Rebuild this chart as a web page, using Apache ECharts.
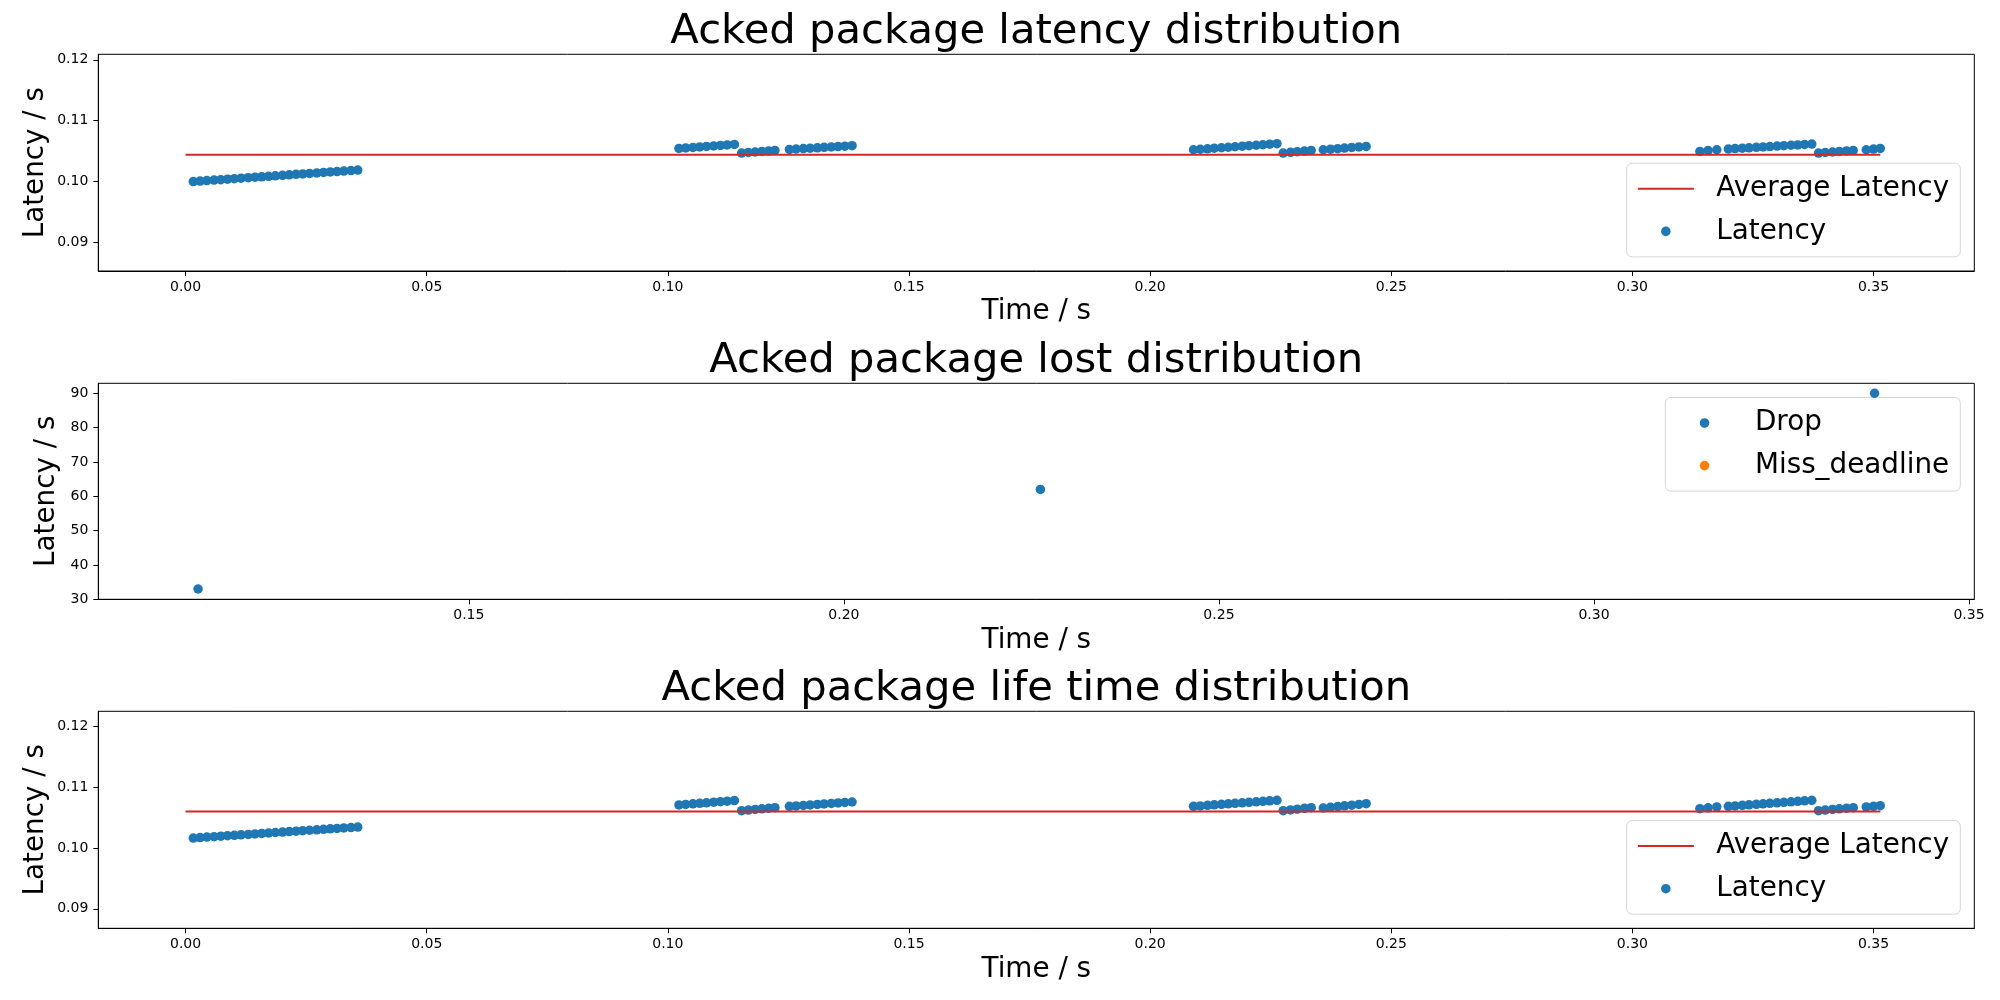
<!DOCTYPE html>
<html>
<head>
<meta charset="utf-8">
<script src="https://cdn.jsdelivr.net/npm/echarts@6/dist/echarts.min.js"></script>
<style>
html,body{margin:0;padding:0;background:#fff;}
#chart{width:2000px;height:1000px;}
</style>
</head>
<body>
<div id="chart"></div>
<script>
// ---------- data ----------
var sendTime = [
  0.0016,0.0030,0.0044,0.0059,0.0073,0.0087,0.0101,0.0115,0.0130,0.0144,0.0158,0.0172,0.0186,0.0201,0.0215,0.0229,0.0243,0.0257,0.0272,0.0286,0.0300,0.0314,0.0328,0.0343,0.0357,
  0.1023,0.1037,0.1052,0.1066,0.1080,0.1095,0.1109,0.1123,0.1138,
  0.1153,0.1167,0.1181,0.1195,0.1209,0.1222,
  0.1252,0.1266,0.1281,0.1295,0.1310,0.1324,0.1339,0.1353,0.1367,0.1382,
  0.2090,0.2104,0.2119,0.2133,0.2148,0.2162,0.2176,0.2191,0.2205,0.2220,0.2234,0.2248,0.2263,
  0.2276,0.2291,0.2305,0.2320,0.2334,
  0.2359,0.2374,0.2389,0.2403,0.2418,0.2433,0.2448,
  0.3140,0.3157,0.3175,
  0.3199,0.3213,0.3228,0.3242,0.3257,0.3271,0.3285,0.3300,0.3314,0.3329,0.3343,0.3357,0.3372,
  0.3386,0.3400,0.3415,0.3429,0.3444,0.3458,
  0.3485,0.3500,0.3514
];
var latency = [
  0.10000,0.10008,0.10016,0.10024,0.10031,0.10039,0.10047,0.10055,0.10063,0.10071,0.10078,0.10086,0.10094,0.10102,0.10110,0.10118,0.10125,0.10133,0.10141,0.10149,0.10157,0.10164,0.10172,0.10180,0.10188,
  0.10544,0.10552,0.10560,0.10569,0.10577,0.10585,0.10593,0.10602,0.10610,
  0.10468,0.10477,0.10485,0.10494,0.10502,0.10511,
  0.10527,0.10534,0.10541,0.10547,0.10554,0.10561,0.10568,0.10574,0.10581,0.10588,
  0.10522,0.10530,0.10538,0.10547,0.10555,0.10563,0.10571,0.10580,0.10588,0.10596,0.10604,0.10613,0.10621,
  0.10468,0.10479,0.10490,0.10500,0.10511,
  0.10522,0.10531,0.10540,0.10549,0.10559,0.10568,0.10577,
  0.10494,0.10508,0.10522,
  0.10534,0.10541,0.10548,0.10554,0.10561,0.10568,0.10575,0.10582,0.10589,0.10596,0.10602,0.10609,0.10616,
  0.10468,0.10477,0.10485,0.10494,0.10502,0.10511,
  0.10522,0.10533,0.10544
];
var lifeTime = [
  0.10165,0.10173,0.10180,0.10188,0.10195,0.10203,0.10210,0.10218,0.10225,0.10233,0.10240,0.10248,0.10256,0.10263,0.10271,0.10278,0.10286,0.10293,0.10301,0.10308,0.10316,0.10323,0.10331,0.10338,0.10346,
  0.10709,0.10718,0.10727,0.10736,0.10745,0.10754,0.10763,0.10772,0.10781,
  0.10615,0.10625,0.10635,0.10645,0.10655,0.10665,
  0.10686,0.10694,0.10702,0.10710,0.10718,0.10726,0.10734,0.10742,0.10750,0.10758,
  0.10686,0.10694,0.10703,0.10711,0.10719,0.10727,0.10736,0.10744,0.10752,0.10760,0.10769,0.10777,0.10785,
  0.10615,0.10628,0.10640,0.10653,0.10665,
  0.10659,0.10671,0.10683,0.10695,0.10706,0.10718,0.10730,
  0.10648,0.10662,0.10676,
  0.10686,0.10694,0.10703,0.10711,0.10719,0.10727,0.10736,0.10744,0.10752,0.10760,0.10769,0.10777,0.10785,
  0.10615,0.10625,0.10635,0.10645,0.10655,0.10665,
  0.10676,0.10687,0.10698
];
var avgLineTime = [0.0, 0.3514];
var avgLatency = 0.1044;
var avgLifeTime = 0.10603;

var dropTime = [0.1139, 0.2262, 0.3374];
var dropValue = [33, 62, 90];
var missTime = [];
var missValue = [];

var timeTicks = [0.00, 0.05, 0.10, 0.15, 0.20, 0.25, 0.30, 0.35];
var lostTimeTicks = [0.15, 0.20, 0.25, 0.30, 0.35];
var latencyTicks = [0.09, 0.10, 0.11, 0.12];
var lostTicks = [30, 40, 50, 60, 70, 80, 90];

var titles = ['Acked package latency distribution', 'Acked package lost distribution', 'Acked package life time distribution'];
var legendLatency = ['Average Latency', 'Latency'];
var legendLost = ['Drop', 'Miss_deadline'];

// ---------- helpers ----------
function pairs(xs, ys) { return xs.map(function (x, i) { return [x, ys[i]]; }); }
function flat(xs, v) { return xs.map(function (x) { return [x, v]; }); }

var FONT = 'DejaVu Sans';
var TITLE_SIZE = 41.7;
var ctx = document.createElement('canvas').getContext('2d');
function textW(t, size) { ctx.font = size + 'px "' + FONT + '"'; return ctx.measureText(t).width; }

var gridL = 98.3, gridR = 25.7;
var gridCX = (gridL + (2000 - gridR)) / 2;
var grids = [
  {left: gridL, right: gridR, top: 54.3, height: 216.7},
  {left: gridL, right: gridR, top: 383.3, height: 216},
  {left: gridL, right: gridR, top: 711.3, height: 217}
];
grids.forEach(function (g) { g.show = true; g.borderColor = '#000'; g.borderWidth = 1; g.backgroundColor = 'transparent'; g.containLabel = false; });

function xAxis(idx, min, max, ticks) {
  return {
    type: 'value', gridIndex: idx, min: min, max: max,
    name: 'Time / s', nameLocation: 'middle', nameGap: 27, nameMoveOverlap: false,
    nameTextStyle: {fontSize: 27.8, fontFamily: FONT, color: '#000'},
    axisLine: {show: true, onZero: false, lineStyle: {color: '#000', width: 1}},
    axisTick: {show: true, length: 5, customValues: ticks, lineStyle: {color: '#000', width: 1}},
    axisLabel: {customValues: ticks, margin: 9, fontSize: 14, fontFamily: FONT, color: '#000',
      formatter: function (v) { return (+v).toFixed(2); }},
    splitLine: {show: false}
  };
}
function yAxis(idx, min, max, ticks, gap, dec) {
  return {
    type: 'value', gridIndex: idx, min: min, max: max,
    name: 'Latency / s', nameLocation: 'middle', nameGap: gap, nameRotate: 90, nameMoveOverlap: false,
    nameTextStyle: {fontSize: 27.8, fontFamily: FONT, color: '#000'},
    axisLine: {show: true, onZero: false, lineStyle: {color: '#000', width: 1}},
    axisTick: {show: true, length: 5, customValues: ticks, lineStyle: {color: '#000', width: 1}},
    axisLabel: {customValues: ticks, margin: 10, fontSize: 14, fontFamily: FONT, color: '#000',
      formatter: function (v) { return (+v).toFixed(dec); }},
    splitLine: {show: false}
  };
}
var blue = '#1f77b4', orange = '#ff7f0e', red = '#d62728';
function scatter(name, xi, data, color) {
  return {type: 'scatter', name: name, xAxisIndex: xi, yAxisIndex: xi, data: data,
    symbol: 'circle', symbolSize: 9.5, itemStyle: {color: color, opacity: 1}, z: 2};
}
function avgLine(xi, v) {
  return {type: 'line', name: 'Average Latency', xAxisIndex: xi, yAxisIndex: xi, data: flat(avgLineTime, v),
    showSymbol: false, symbol: 'none', lineStyle: {color: red, width: 2}, itemStyle: {color: red}, z: 3};
}

// ---------- legend boxes (matplotlib style) ----------
var LFS = 27.8, PAD = 11.2, HANDLE = 56, HTP = 22.4, ROWH = 28.6, SPACING = 14;
function legendGroup(labels, kinds, colors, rightX, topY) {
  var maxW = Math.max.apply(null, labels.map(function (t) { return textW(t, LFS); }));
  var w = PAD + HANDLE + HTP + maxW + PAD;
  var h = PAD * 2 + labels.length * ROWH + (labels.length - 1) * SPACING;
  var left = rightX - w;
  var children = [{
    type: 'rect', shape: {x: left, y: topY, width: w, height: h, r: 5.5},
    style: {fill: 'rgba(255,255,255,0.8)', stroke: '#d6d6d6', lineWidth: 1}
  }];
  labels.forEach(function (t, i) {
    var cy = topY + PAD + ROWH / 2 + i * (ROWH + SPACING);
    var hx = left + PAD;
    if (kinds[i] === 'line') {
      children.push({type: 'line', shape: {x1: hx, y1: cy, x2: hx + HANDLE, y2: cy}, style: {stroke: colors[i], lineWidth: 2}});
    } else {
      children.push({type: 'circle', shape: {cx: hx + HANDLE / 2, cy: cy, r: 4.8}, style: {fill: colors[i]}});
    }
    children.push({type: 'text', x: hx + HANDLE + HTP, y: cy,
      style: {text: t, fontSize: LFS, fontFamily: FONT, fill: '#000', verticalAlign: 'middle', align: 'left'}});
  });
  return {type: 'group', children: children, z: 100};
}

var option = {
  animation: false,
  backgroundColor: '#fff',
  title: titles.map(function (t, i) {
    return {text: t, padding: 0, left: gridCX - textW(t, TITLE_SIZE) / 2, top: [10.7, 339.7, 667.7][i],
      textStyle: {fontSize: TITLE_SIZE, fontFamily: FONT, fontWeight: 'normal', color: '#000'}};
  }),
  grid: grids,
  xAxis: [
    xAxis(0, -0.0181, 0.3709, timeTicks),
    xAxis(1, 0.1006, 0.3507, lostTimeTicks),
    xAxis(2, -0.0181, 0.3709, timeTicks)
  ],
  yAxis: [
    yAxis(0, 0.0853, 0.1209, latencyTicks, 49, 2),
    yAxis(1, 30, 92.9, lostTicks, 38, 0),
    yAxis(2, 0.0868, 0.1225, latencyTicks, 49, 2)
  ],
  series: [
    avgLine(0, avgLatency),
    scatter('Latency', 0, pairs(sendTime, latency), blue),
    scatter('Drop', 1, pairs(dropTime, dropValue), blue),
    scatter('Miss_deadline', 1, pairs(missTime, missValue), orange),
    avgLine(2, avgLifeTime),
    scatter('Latency', 2, pairs(sendTime, lifeTime), blue)
  ],
  graphic: [
    legendGroup(legendLatency, ['line', 'dot'], [red, blue], 1960.3, 163.3),
    legendGroup(legendLost, ['dot', 'dot'], [blue, orange], 1960.3, 397.5),
    legendGroup(legendLatency, ['line', 'dot'], [red, blue], 1960.3, 820.6)
  ]
};
var chart = echarts.init(document.getElementById('chart'), null, {renderer: 'canvas'});
chart.setOption(option);
</script>
</body>
</html>
